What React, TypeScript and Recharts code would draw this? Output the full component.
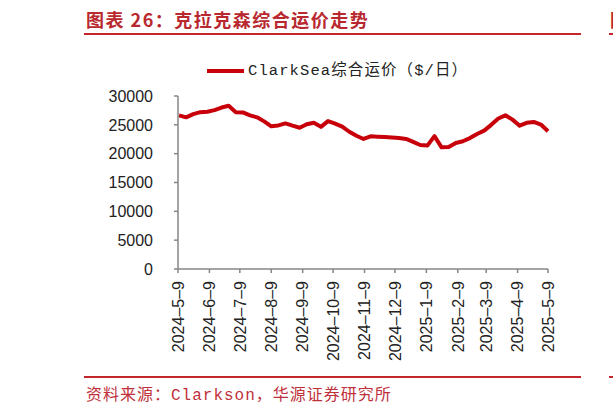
import React from 'react';
import { LineChart, Line, XAxis, YAxis } from 'recharts';

// weekly ClarkSea index readings ($/day)
const weekDates = [
  '2024-05-10', '2024-05-17', '2024-05-24', '2024-05-31', '2024-06-07', '2024-06-14',
  '2024-06-21', '2024-06-28', '2024-07-05', '2024-07-12', '2024-07-19', '2024-07-26',
  '2024-08-02', '2024-08-09', '2024-08-16', '2024-08-23', '2024-08-30', '2024-09-06',
  '2024-09-13', '2024-09-20', '2024-09-27', '2024-10-04', '2024-10-11', '2024-10-18',
  '2024-10-25', '2024-11-01', '2024-11-08', '2024-11-15', '2024-11-22', '2024-11-29',
  '2024-12-06', '2024-12-13', '2024-12-20', '2024-12-27', '2025-01-03', '2025-01-10',
  '2025-01-17', '2025-01-24', '2025-01-31', '2025-02-07', '2025-02-14', '2025-02-21',
  '2025-02-28', '2025-03-07', '2025-03-14', '2025-03-21', '2025-03-28', '2025-04-04',
  '2025-04-11', '2025-04-18', '2025-04-25', '2025-05-02', '2025-05-09',
];

const clarkSea = [
  26650, 26300, 26850, 27200, 27260, 27550, 28000, 28300, 27200, 27160, 26650, 26300,
  25600, 24750, 24900, 25250, 24850, 24500, 25100, 25350, 24650, 25650, 25200, 24700,
  23800, 23100, 22550, 23000, 22950, 22880, 22800, 22700, 22550, 22050, 21500, 21400,
  23050, 21100, 21150, 21850, 22150, 22700, 23400, 24000, 25000, 26100, 26650, 25900,
  24850, 25350, 25500, 25050, 23900,
];

const tickDates = [
  '2024-5-9', '2024-6-9', '2024-7-9', '2024-8-9', '2024-9-9', '2024-10-9', '2024-11-9',
  '2024-12-9', '2025-1-9', '2025-2-9', '2025-3-9', '2025-4-9', '2025-5-9',
];

const yTicks = [0, 5000, 10000, 15000, 20000, 25000, 30000];

const RED = '#c8000a';
const AXIS = '#868686';

const dayOf = (s: string) => {
  const [y, m, d] = s.split('-').map(Number);
  return (Date.UTC(y, m - 1, d) - Date.UTC(2024, 4, 9)) / 86400000;
};

const data = weekDates.map((d, i) => ({ t: dayOf(d), v: clarkSea[i] }));
const xTicks = tickDates.map(dayOf);
const tickLabel: Record<number, string> = {};
// the source renders the date dashes wide, like en dashes
tickDates.forEach((d) => { tickLabel[dayOf(d)] = d.replace(/-/g, '–'); });

function DateTick({ x, y, payload }: any) {
  return (
    <text
      x={x}
      y={y}
      transform={`rotate(-90, ${x}, ${y})`}
      textAnchor="end"
      dy="0.36em"
      fill="#222"
      fontSize={16}
      fontFamily="'Liberation Sans', Arial, sans-serif"
    >
      {tickLabel[payload.value]}
    </text>
  );
}

const cjk = "'Liberation Mono', 'Noto Sans CJK SC', monospace";

export default function App() {
  return (
    <div style={{ position: 'absolute', left: 0, top: 0, width: 613, height: 416, background: '#fff', overflow: 'hidden' }}>
      <div style={{
        position: 'absolute', left: 86, top: 6, fontSize: 18, fontWeight: 700, letterSpacing: 1.5,
        color: '#b8282e', fontFamily: "'Noto Sans CJK SC', sans-serif", lineHeight: '26px', whiteSpace: 'nowrap',
      }}>
        图表 26：克拉克森综合运价走势
      </div>
      <div style={{ position: 'absolute', left: 84, top: 33, width: 497, height: 2, background: '#c3262c' }} />
      <div style={{
        position: 'absolute', left: 610, top: 6, fontSize: 18, fontWeight: 700,
        color: '#b8282e', fontFamily: "'Noto Sans CJK SC', sans-serif", lineHeight: '26px',
      }}>
        图
      </div>
      <div style={{ position: 'absolute', left: 609, top: 33, width: 10, height: 2, background: '#c3262c' }} />

      <div style={{ position: 'absolute', left: 207, top: 69, width: 37, height: 4, background: RED }} />
      <div style={{
        position: 'absolute', left: 248, top: 61, fontSize: 15.5, letterSpacing: 1.1, lineHeight: '20px', color: '#222',
        fontFamily: cjk, whiteSpace: 'nowrap',
      }}>
        ClarkSea综合运价（$/日）
      </div>

      <div style={{ position: 'absolute', left: 0, top: 0 }}>
        <LineChart width={613} height={416} data={data} margin={{ top: 96, right: 65, bottom: 57, left: 118 }}>
          <XAxis
            dataKey="t"
            type="number"
            domain={[0, 365]}
            ticks={xTicks}
            interval={0}
            height={90}
            stroke={AXIS}
            strokeWidth={1.5}
            tickSize={4}
            tickMargin={8}
            tick={<DateTick />}
          />
          <YAxis
            domain={[0, 30000]}
            ticks={yTicks}
            interval={0}
            width={60}
            stroke={AXIS}
            strokeWidth={1.5}
            tickSize={4}
            tickMargin={21}
            tick={{ fill: '#222', fontSize: 16, fontFamily: "'Liberation Sans', Arial, sans-serif" }}
          />
          <Line
            dataKey="v"
            stroke={RED}
            strokeWidth={4}
            dot={false}
            type="linear"
            strokeLinejoin="round"
            isAnimationActive={false}
          />
        </LineChart>
      </div>

      <div style={{ position: 'absolute', left: 84, top: 376, width: 497, height: 2, background: '#c3262c' }} />
      <div style={{ position: 'absolute', left: 609, top: 376, width: 10, height: 2, background: '#c3262c' }} />
      <div style={{
        position: 'absolute', left: 86, top: 385, fontSize: 16, letterSpacing: 1, lineHeight: '22px',
        color: '#c0303a', fontFamily: cjk, whiteSpace: 'nowrap',
      }}>
        资料来源：Clarkson，华源证券研究所
      </div>
    </div>
  );
}
